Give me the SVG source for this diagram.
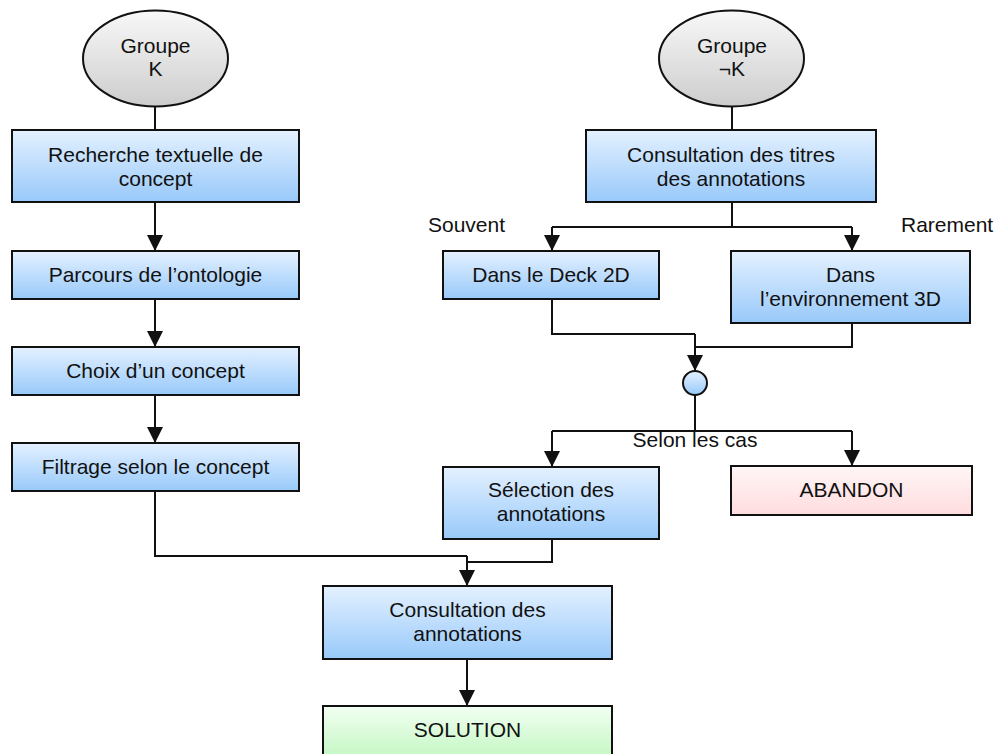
<svg xmlns="http://www.w3.org/2000/svg" width="998" height="754" viewBox="0 0 998 754">
<style>
text{font-family:"Liberation Sans",Arial,sans-serif;font-size:21px;fill:#111;text-anchor:middle}
.lbl{text-anchor:start}
.box{stroke:#111;stroke-width:2}
.blue{fill:url(#gBlue)}
.gray{fill:url(#gGray)}
.pink{fill:url(#gPink)}
.green{fill:url(#gGreen)}
.conn path{fill:none;stroke:#111;stroke-width:2}
.arr{marker-end:url(#ah)}
</style>
<defs>
<linearGradient id="gBlue" x1="0" y1="0" x2="0" y2="1">
<stop offset="0" stop-color="#E4F1FF"/><stop offset="1" stop-color="#98C9FA"/>
</linearGradient>
<linearGradient id="gGray" x1="0" y1="0" x2="0" y2="1">
<stop offset="0" stop-color="#F8F8F8"/><stop offset="1" stop-color="#CDCDCD"/>
</linearGradient>
<linearGradient id="gPink" x1="0" y1="0" x2="0" y2="1">
<stop offset="0" stop-color="#FFF6F6"/><stop offset="1" stop-color="#FFDCDE"/>
</linearGradient>
<linearGradient id="gGreen" x1="0" y1="0" x2="0" y2="1">
<stop offset="0" stop-color="#F2FFF2"/><stop offset="1" stop-color="#C4F7C4"/>
</linearGradient>
<marker id="ah" viewBox="0 0 16 16" refX="16" refY="8" markerWidth="16" markerHeight="16" markerUnits="userSpaceOnUse" orient="auto">
<path d="M0,0 L16,8 L0,16 z" fill="#111"/>
</marker>
</defs>

<g id="connectors" class="conn">
<path d="M155,107 V130"/>
<path class="arr" d="M155,202 V251"/>
<path class="arr" d="M155,299 V347"/>
<path class="arr" d="M155,395 V443"/>
<path d="M732,107 V130"/>
<path d="M732,202 V227"/>
<path d="M552,227 H852"/>
<path class="arr" d="M552,227 V251"/>
<path class="arr" d="M852,227 V251"/>
<path d="M552,299 V334 H695"/>
<path d="M852,323 V347 H695"/>
<path class="arr" d="M695,334 V371"/>
<path d="M695,395 V431"/>
<path d="M552,431 H852"/>
<path class="arr" d="M552,431 V467"/>
<path class="arr" d="M852,431 V466"/>
<path d="M155,491 V556 H467"/>
<path d="M552,539 V562 H467"/>
<path class="arr" d="M467,556 V586"/>
<path class="arr" d="M467,659 V706"/>
</g>

<g id="groupeK">
<ellipse class="box gray" cx="155.5" cy="58.5" rx="72.5" ry="48"/>
<text x="155.5" y="53">Groupe</text>
<text x="155.5" y="76">K</text>
</g>
<g id="groupeNonK">
<ellipse class="box gray" cx="731.5" cy="58.5" rx="72.5" ry="48"/>
<text x="732" y="53">Groupe</text>
<text x="732" y="76">¬K</text>
</g>

<g id="recherche">
<rect class="box blue" x="12" y="130" width="287" height="72"/>
<text x="155.5" y="162">Recherche textuelle de</text>
<text x="155.5" y="186">concept</text>
</g>
<g id="parcours">
<rect class="box blue" x="12" y="251" width="287" height="48"/>
<text x="155.5" y="282">Parcours de l’ontologie</text>
</g>
<g id="choix">
<rect class="box blue" x="12" y="347" width="287" height="48"/>
<text x="155.5" y="378">Choix d’un concept</text>
</g>
<g id="filtrage">
<rect class="box blue" x="12" y="443" width="287" height="48"/>
<text x="155.5" y="474">Filtrage selon le concept</text>
</g>

<g id="consultTitres">
<rect class="box blue" x="586" y="130" width="290" height="72"/>
<text x="731" y="162">Consultation des titres</text>
<text x="731" y="186">des annotations</text>
</g>
<g id="deck">
<rect class="box blue" x="443" y="251" width="216" height="48"/>
<text x="551" y="282">Dans le Deck 2D</text>
</g>
<g id="env3d">
<rect class="box blue" x="731" y="251" width="239" height="72"/>
<text x="850.5" y="282">Dans</text>
<text x="850.5" y="306">l’environnement 3D</text>
</g>
<g id="jonction">
<circle class="box blue" cx="695" cy="383" r="12"/>
</g>
<g id="selection">
<rect class="box blue" x="443" y="467" width="216" height="72"/>
<text x="551" y="497">Sélection des</text>
<text x="551" y="521">annotations</text>
</g>
<g id="abandon">
<rect class="box pink" x="731" y="466" width="241" height="49"/>
<text x="851.5" y="497">ABANDON</text>
</g>
<g id="consultation">
<rect class="box blue" x="323" y="586" width="289" height="73"/>
<text x="467.5" y="617">Consultation des</text>
<text x="467.5" y="641">annotations</text>
</g>
<g id="solution">
<rect class="box green" x="323" y="706" width="289" height="52"/>
<text x="467.5" y="737">SOLUTION</text>
</g>

<g id="labels">
<text class="lbl" x="428" y="232">Souvent</text>
<text class="lbl" x="901" y="232">Rarement</text>
<text x="695" y="447">Selon les cas</text>
</g>
</svg>
